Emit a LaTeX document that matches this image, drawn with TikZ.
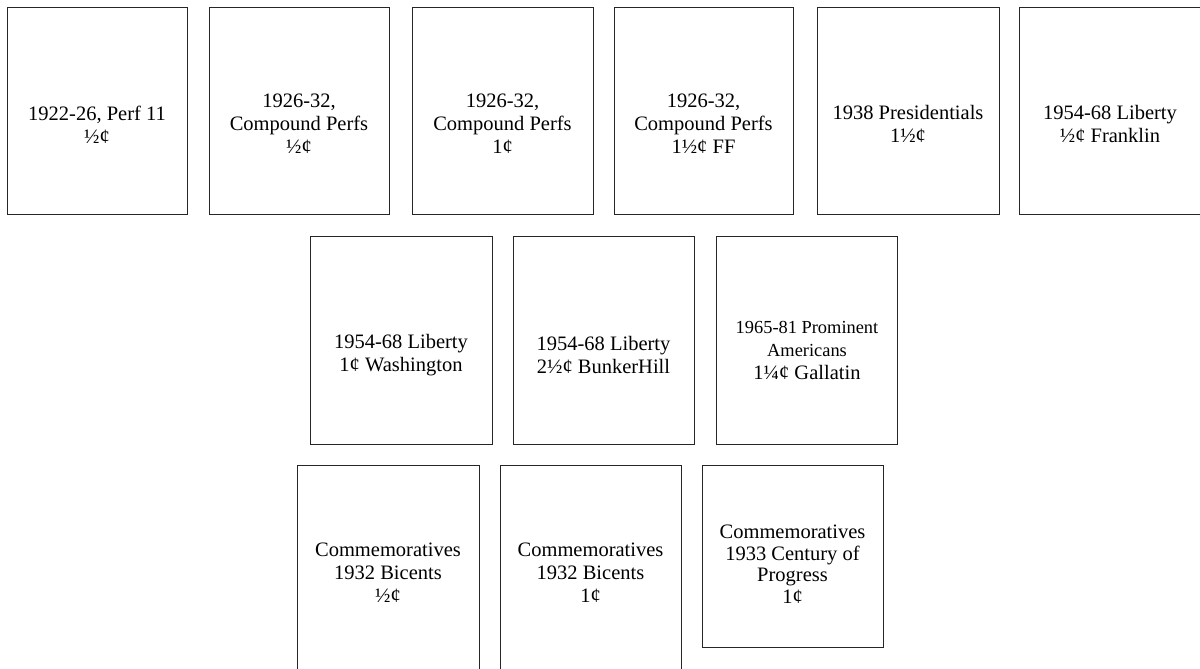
\documentclass[tikz,border=0pt]{standalone}
\usepackage{fontspec}
\setmainfont{Liberation Serif}
\newcommand{\smallline}[1]{{\fontsize{18.4}{21.5}\selectfont #1}}
\begin{document}
\begin{tikzpicture}[x=1pt,y=-1pt,
  stampbox/.style={draw=black!85, line width=0.9pt, anchor=north west, inner sep=0pt, outer sep=0pt},
  stamptext/.style={align=center, inner sep=0pt, font=\fontsize{20.5}{23}\selectfont}]
\clip (0,0) rectangle (1200,669);
\fill[white] (0,0) rectangle (1200,669);
% row 1
\node[stampbox, minimum width=180pt, minimum height=207pt] (b1) at (7,7) {};
\node[stampbox, minimum width=180pt, minimum height=207pt] (b2) at (209,7) {};
\node[stampbox, minimum width=181pt, minimum height=207pt] (b3) at (412,7) {};
\node[stampbox, minimum width=179pt, minimum height=207pt] (b4) at (614,7) {};
\node[stampbox, minimum width=182pt, minimum height=207pt] (b5) at (817,7) {};
\node[stampbox, minimum width=183pt, minimum height=207pt] (b6) at (1019,7) {};
% row 2
\node[stampbox, minimum width=182pt, minimum height=208pt] (b7) at (310,236) {};
\node[stampbox, minimum width=181pt, minimum height=208pt] (b8) at (513,236) {};
\node[stampbox, minimum width=181pt, minimum height=208pt] (b9) at (716,236) {};
% row 3
\node[stampbox, minimum width=182pt, minimum height=215pt] (b10) at (297,465) {};
\node[stampbox, minimum width=181pt, minimum height=215pt] (b11) at (500,465) {};
\node[stampbox, minimum width=181pt, minimum height=182pt] (b12) at (702,465) {};
% texts row 1
\node[stamptext] (t1) at (97,124.5) {1922-26, Perf 11\\½¢};
\node[stamptext] (t2) at (299,123.5) {1926-32,\\Compound Perfs\\½¢};
\node[stamptext] (t3) at (502.5,123.5) {1926-32,\\Compound Perfs\\1¢};
\node[stamptext] (t4) at (703.5,123.5) {1926-32,\\Compound Perfs\\1½¢ FF};
\node[stamptext] (t5) at (908,124) {1938 Presidentials\\1½¢};
\node[stamptext] (t6) at (1110,124) {1954-68 Liberty\\½¢ Franklin};
% texts row 2
\node[stamptext] (t7) at (401,355) {1954-68 Liberty\\1¢ Washington};
\node[stamptext] (t8) at (603.5,355) {1954-68 Liberty\\2½¢ BunkerHill};
\node[stamptext] (t9) at (807,350) {\smallline{1965-81 Prominent}\\\smallline{Americans}\\1¼¢ Gallatin};
% texts row 3
\node[stamptext] (t10) at (388,573) {Commemoratives\\1932 Bicents\\½¢};
\node[stamptext] (t11) at (590.5,573) {Commemoratives\\1932 Bicents\\1¢};
\node[stamptext, font=\fontsize{20.5}{21.5}\selectfont] (t12) at (792.5,564) {Commemoratives\\1933 Century of\\Progress\\1¢};
\end{tikzpicture}
\end{document}
